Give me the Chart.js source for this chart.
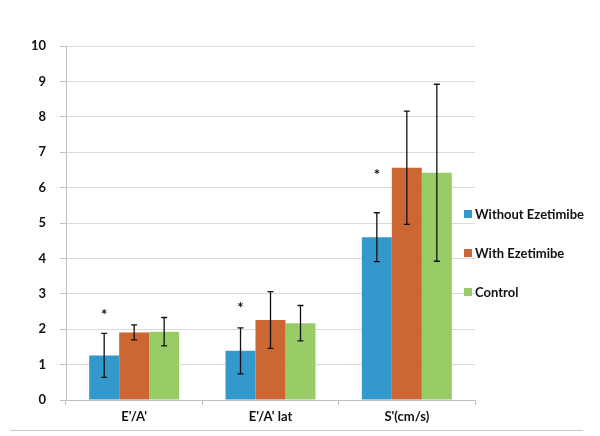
<!DOCTYPE html>
<html>
<head>
<meta charset="utf-8">
<script src="https://cdn.jsdelivr.net/npm/chart.js@4"></script>
<style>
  body { margin: 0; background: #fff; }
  canvas { display: block; }
</style>
</head>
<body>
<canvas id="chart" width="600" height="436"></canvas>
<script>
// data
const categories = ["E'/A'", "E'/A' lat", "S'(cm/s)"];
const seriesNames = ["Without Ezetimibe", "With Ezetimibe", "Control"];
const withoutEze = [1.26, 1.39, 4.6];
const withEze = [1.91, 2.26, 6.56];
const control = [1.93, 2.17, 6.42];
// error bar half-lengths
const withoutEzeErr = [0.62, 0.65, 0.69];
const withEzeErr = [0.21, 0.8, 1.6];
const controlErr = [0.4, 0.5, 2.5];
// asterisks (significance marks) above the first series
const starValues = [2.5, 2.7, 6.47];
const yTicks = [0, 1, 2, 3, 4, 5, 6, 7, 8, 9, 10];

const colors = ["#3399cc", "#cc6633", "#99cc66"];
const allValues = [withoutEze, withEze, control];
const allErrors = [withoutEzeErr, withEzeErr, controlErr];

const font = { family: "Lato, sans-serif", size: 13, weight: "bold" };

// error bars, asterisks, legend and bottom line
const extras = {
  id: "extras",
  afterDatasetsDraw(chart) {
    const ctx = chart.ctx;
    const y = chart.scales.y;
    ctx.save();
    ctx.strokeStyle = "#111";
    ctx.lineWidth = 1.3;
    allErrors.forEach((errs, di) => {
      const meta = chart.getDatasetMeta(di);
      meta.data.forEach((bar, i) => {
        const v = allValues[di][i];
        const top = y.getPixelForValue(v + errs[i]);
        const bot = y.getPixelForValue(v - errs[i]);
        ctx.beginPath();
        ctx.moveTo(bar.x, top);
        ctx.lineTo(bar.x, bot);
        ctx.moveTo(bar.x - 3, top);
        ctx.lineTo(bar.x + 3, top);
        ctx.moveTo(bar.x - 3, bot);
        ctx.lineTo(bar.x + 3, bot);
        ctx.stroke();
      });
    });
    // stars
    ctx.fillStyle = "#111";
    ctx.font = "bold 15px Lato, sans-serif";
    ctx.textAlign = "center";
    ctx.textBaseline = "middle";
    const meta0 = chart.getDatasetMeta(0);
    starValues.forEach((v, i) => {
      ctx.fillText("*", meta0.data[i].x, y.getPixelForValue(v) + 4);
    });
    // legend
    ctx.textAlign = "left";
    ctx.font = "bold 13px Lato, sans-serif";
    seriesNames.forEach((name, i) => {
      const ly = 214 + i * 39;
      ctx.fillStyle = colors[i];
      ctx.fillRect(464, ly - 4, 8, 8);
      ctx.fillStyle = "#111";
      ctx.fillText(name, 475, ly + 1);
    });
    // frame line at the bottom
    ctx.strokeStyle = "#c8c8c8";
    ctx.lineWidth = 1;
    ctx.beginPath();
    ctx.moveTo(10, 430.5);
    ctx.lineTo(583, 430.5);
    ctx.stroke();
    ctx.restore();
  }
};

new Chart(document.getElementById("chart"), {
  type: "bar",
  data: {
    labels: categories,
    datasets: seriesNames.map((name, i) => ({
      label: name,
      data: allValues[i],
      backgroundColor: colors[i],
      borderWidth: 0,
      categoryPercentage: 0.66,
      barPercentage: 1.0
    }))
  },
  options: {
    responsive: false,
    animation: false,
    devicePixelRatio: 1,
    layout: { padding: { top: 46, right: 125, left: 0, bottom: 0 } },
    plugins: { legend: { display: false }, tooltip: { enabled: false } },
    scales: {
      x: {
        afterFit: (s) => { s.height = 36; },
        grid: {
          offset: true,
          drawOnChartArea: false,
          drawTicks: true,
          tickLength: 5,
          color: "#bfbfbf"
        },
        border: { color: "#bfbfbf" },
        ticks: { color: "#111", font: font, padding: 4 }
      },
      y: {
        min: 0,
        max: 10,
        afterFit: (s) => { s.width = 66; },
        afterBuildTicks: (s) => { s.ticks = yTicks.map((v) => ({ value: v })); },
        grid: { color: "#d9d9d9", tickLength: 6, tickColor: "#bfbfbf" },
        border: { color: "#bfbfbf" },
        ticks: { color: "#111", font: font, padding: 14 }
      }
    }
  },
  plugins: [extras]
});
</script>
</body>
</html>
